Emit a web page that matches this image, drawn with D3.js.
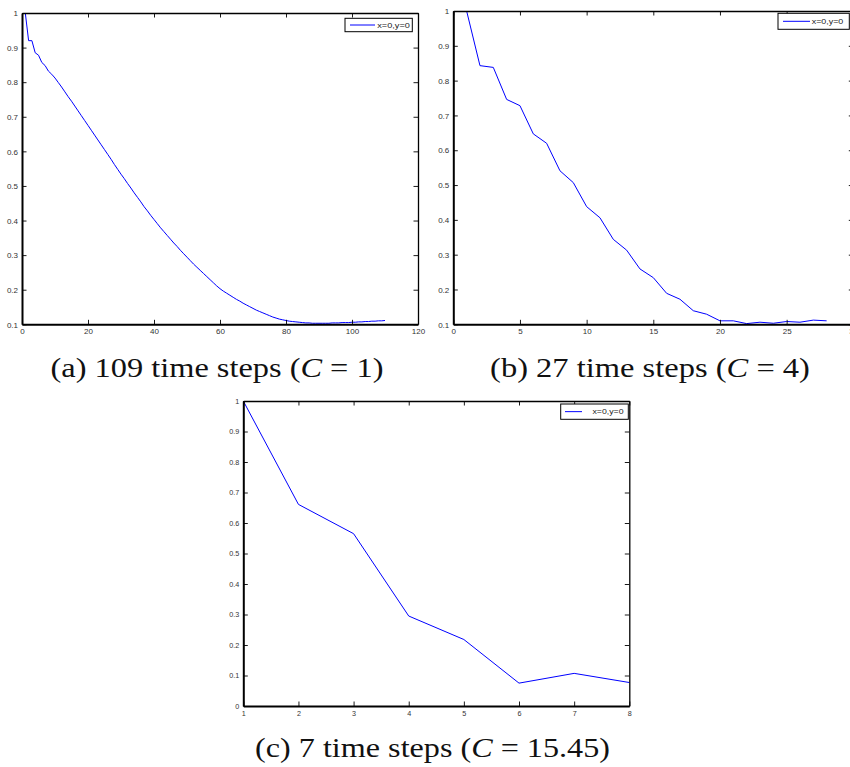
<!DOCTYPE html>
<html>
<head>
<meta charset="utf-8">
<script src="https://cdn.jsdelivr.net/npm/d3@7"></script>
<style>
  html, body { margin: 0; padding: 0; background: #fff; }
  svg { display: block; }
  .tick text { font-family: "Liberation Sans", Arial, sans-serif; fill: #333; }
  .cap { font-family: "Liberation Serif", "Times New Roman", serif; fill: #111; }
</style>
</head>
<body>
<svg id="chart" width="850" height="767"></svg>
<script>
// ---------------- DATA ----------------
// (a) C = 1 : values at time index 1..110
const valuesA = [
  1.000, 0.920, 0.920, 0.885, 0.878, 0.857, 0.848, 0.832, 0.823, 0.812,
  0.799, 0.786, 0.772, 0.758, 0.745, 0.731, 0.717, 0.703, 0.689, 0.675,
  0.661, 0.647, 0.633, 0.619, 0.605, 0.591, 0.577, 0.562, 0.548, 0.534,
  0.521, 0.507, 0.494, 0.480, 0.467, 0.454, 0.440, 0.428, 0.415, 0.403,
  0.391, 0.379, 0.368, 0.357, 0.346, 0.335, 0.325, 0.314, 0.304, 0.294,
  0.284, 0.274, 0.265, 0.256, 0.247, 0.238, 0.229, 0.220, 0.211, 0.203,
  0.196, 0.190, 0.184, 0.178, 0.172, 0.167, 0.161, 0.156, 0.151, 0.146,
  0.141, 0.137, 0.133, 0.129, 0.125, 0.121, 0.118, 0.115, 0.113, 0.111,
  0.109, 0.108, 0.107, 0.106, 0.105, 0.104, 0.104, 0.103, 0.103, 0.103,
  0.103, 0.103, 0.103, 0.104, 0.104, 0.104, 0.105, 0.105, 0.105, 0.106,
  0.106, 0.107, 0.107, 0.108, 0.108, 0.109, 0.109, 0.110, 0.110, 0.111
];
// (b) C = 4 : values at time index 1..28
const valuesB = [
  1.000, 0.843, 0.838, 0.746, 0.728, 0.647, 0.620, 0.541, 0.507, 0.438,
  0.406, 0.344, 0.313, 0.259, 0.234, 0.189, 0.172, 0.139, 0.129, 0.110,
  0.110, 0.102, 0.106, 0.103, 0.108, 0.106, 0.112, 0.110
];
// (c) C = 15.45 : values at time index 1..8
const valuesC = [1.000, 0.661, 0.565, 0.295, 0.218, 0.075, 0.107, 0.077];

const xTicksA = [0, 20, 40, 60, 80, 100, 120];
const xTicksB = [0, 5, 10, 15, 20, 25, 30];
const xTicksC = [1, 2, 3, 4, 5, 6, 7, 8];
const yTicksAB = [0.1, 0.2, 0.3, 0.4, 0.5, 0.6, 0.7, 0.8, 0.9, 1];
const yTicksC = [0, 0.1, 0.2, 0.3, 0.4, 0.5, 0.6, 0.7, 0.8, 0.9, 1];
const legendLabel = "x=0,y=0";
const captions = [
  ["(a) 109 time steps (", "C", " = 1)"],
  ["(b) 27 time steps (", "C", " = 4)"],
  ["(c) 7 time steps (", "C", " = 15.45)"]
];

// ---------------- LAYOUT ----------------
const svg = d3.select("#chart");

const panels = [
  { values: valuesA, xDomain: [0, 120], yDomain: [0.1, 1], xTicks: xTicksA, yTicks: yTicksAB,
    box: { l: 22, r: 418, t: 13, b: 324.3 }, font: 8,
    legend: { x: 345, y: 18.3, w: 67.3, h: 13.4, l0: 350, l1: 375, tx: 377.3, tw: 32.5 },
    cap: { cx: 217, base: 377, w: 333 }, caption: captions[0] },
  { values: valuesB, xDomain: [0, 30], yDomain: [0.1, 1], xTicks: xTicksB, yTicks: yTicksAB,
    box: { l: 453.3, r: 853.3, t: 11, b: 324.3 }, font: 8,
    legend: { x: 778, y: 13.3, w: 71.3, h: 16, l0: 783, l1: 810, tx: 811.7, tw: 31.6 },
    cap: { cx: 650, base: 377, w: 320 }, caption: captions[1] },
  { values: valuesC, xDomain: [1, 8], yDomain: [0, 1], xTicks: xTicksC, yTicks: yTicksC,
    box: { l: 243.3, r: 629.3, t: 401, b: 706 }, font: 7.2,
    legend: { x: 560.7, y: 404, w: 67.6, h: 15.3, l0: 565, l1: 582, tx: 592.5, tw: 31 },
    cap: { cx: 432.5, base: 757, w: 355 }, caption: captions[2] }
];

const fmt = d => String(+d.toFixed(1));
const TICK = 4.5;

panels.forEach(p => {
  const B = p.box;
  const x = d3.scaleLinear().domain(p.xDomain).range([B.l, B.r]);
  const y = d3.scaleLinear().domain(p.yDomain).range([B.b, B.t]);
  const g = svg.append("g");

  // data line
  const line = d3.line().x((d, i) => x(i + 1)).y(d => y(d));
  g.append("path").datum(p.values)
    .attr("fill", "none").attr("stroke", "#0000ff").attr("stroke-width", 1)
    .attr("stroke-linejoin", "round")
    .attr("d", line);

  // axes (ticks pointing inward)
  const styleAxis = (sel, w, fs) => {
    sel.select(".domain").attr("stroke", "#000").attr("stroke-width", w);
    sel.selectAll(".tick line").attr("stroke", "#000").attr("stroke-width", 0.9);
    sel.selectAll(".tick text").style("font-size", fs + "px");
  };
  const bottom = g.append("g").attr("transform", `translate(0,${B.b})`)
    .call(d3.axisBottom(x).tickValues(p.xTicks).tickFormat(d3.format("d"))
      .tickSizeInner(-TICK).tickSizeOuter(0).tickPadding(4.5));
  styleAxis(bottom, 2, p.font);
  const left = g.append("g").attr("transform", `translate(${B.l},0)`)
    .call(d3.axisLeft(y).tickValues(p.yTicks).tickFormat(fmt)
      .tickSizeInner(-TICK).tickSizeOuter(0).tickPadding(4));
  styleAxis(left, 2, p.font);
  left.selectAll(".tick text").attr("dy", "0.34em");
  const top = g.append("g").attr("transform", `translate(0,${B.t})`)
    .call(d3.axisTop(x).tickValues(p.xTicks).tickFormat("")
      .tickSizeInner(-TICK).tickSizeOuter(0));
  styleAxis(top, 1.3, p.font);
  const right = g.append("g").attr("transform", `translate(${B.r},0)`)
    .call(d3.axisRight(y).tickValues(p.yTicks).tickFormat("")
      .tickSizeInner(-TICK).tickSizeOuter(0));
  styleAxis(right, 1.3, p.font);

  // legend
  const L = p.legend;
  g.append("rect").attr("x", L.x).attr("y", L.y).attr("width", L.w).attr("height", L.h)
    .attr("fill", "#fff").attr("stroke", "#000").attr("stroke-width", 1);
  g.append("line").attr("x1", L.l0).attr("x2", L.l1)
    .attr("y1", L.y + L.h / 2).attr("y2", L.y + L.h / 2)
    .attr("stroke", "#0000ff").attr("stroke-width", 1);
  g.append("text").attr("x", L.tx).attr("y", L.y + L.h / 2).attr("dy", "0.35em")
    .attr("textLength", L.tw).attr("lengthAdjust", "spacingAndGlyphs")
    .style("font-family", "'Liberation Sans', Arial, sans-serif")
    .style("font-size", "8px").style("fill", "#222")
    .text(legendLabel);

  // caption
  const C = p.cap;
  const cg = g.append("g");
  const t = cg.append("text").attr("class", "cap").attr("x", 0).attr("y", 0)
    .style("font-size", "27px").attr("text-anchor", "middle");
  t.append("tspan").text(p.caption[0]);
  t.append("tspan").style("font-style", "italic").text(p.caption[1]);
  t.append("tspan").text(p.caption[2]);
  const w = t.node().getComputedTextLength();
  cg.attr("transform", `translate(${C.cx},${C.base}) scale(${C.w / w},1)`);
});
</script>
</body>
</html>
